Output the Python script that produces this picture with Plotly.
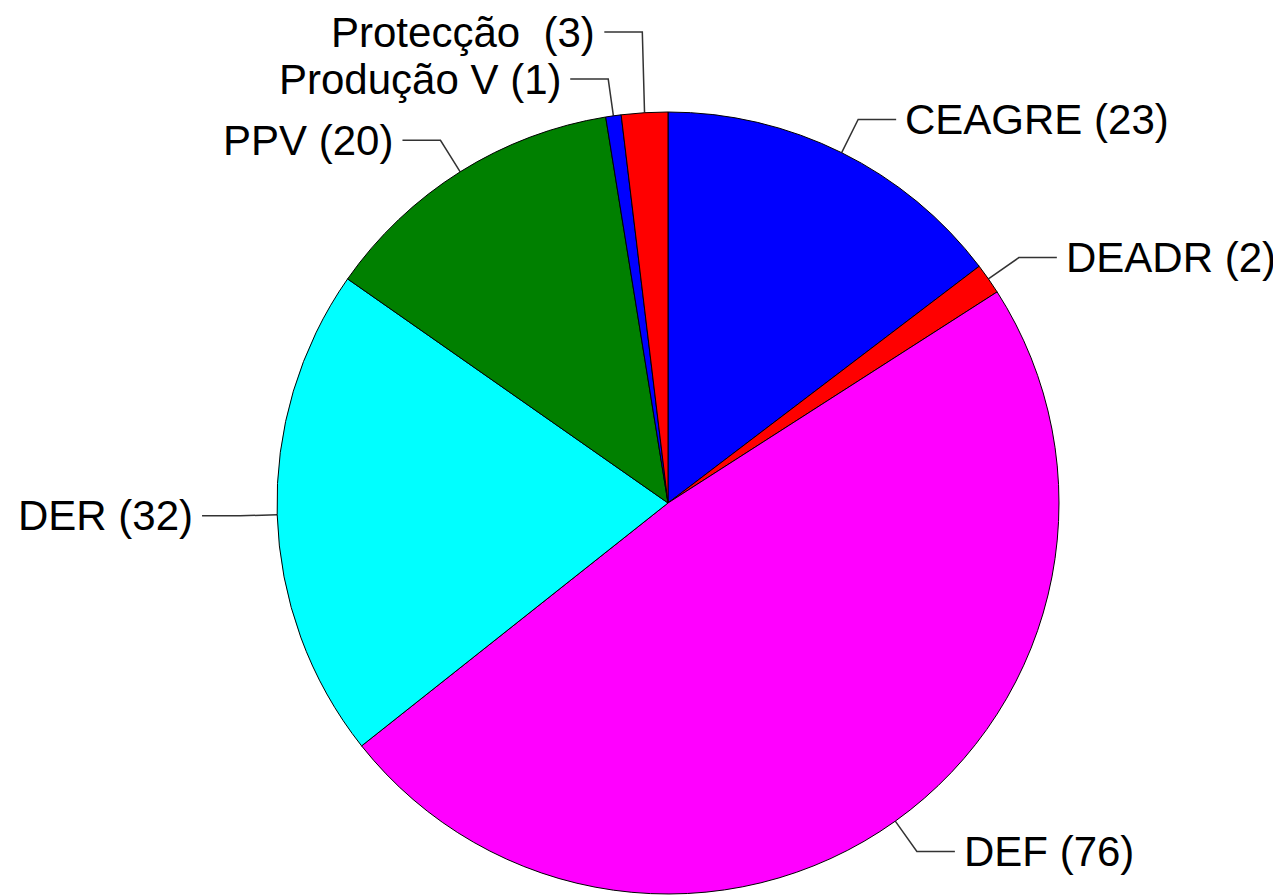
import math
import plotly.graph_objects as go

# ---- data ----
categories = ["CEAGRE", "DEADR", "DEF", "DER", "PPV", "Produção V", "Protecção "]
values = [23, 2, 76, 32, 20, 1, 3]
colors = ["#0000FF", "#FF0000", "#FF00FF", "#00FFFF", "#008000", "#0000FF", "#FF0000"]

# ---- geometry (pixels, compensating 8px page margin) ----
W, H = 1281, 895
OFF = 8
CX, CY, R = 668 - OFF, 503 - OFF, 391
ELBOW = 1.095          # leader elbow radius factor
SEG = 38               # horizontal leader length
GAP = 7                # gap between leader and text
LINE_H = 47            # min vertical spacing between labels
FONT = dict(family="Liberation Sans, Arial, sans-serif", size=42, color="black")

fig = go.Figure()

fig.add_trace(go.Pie(
    labels=categories, values=values, sort=False, direction="clockwise", rotation=0,
    marker=dict(colors=colors, line=dict(color="black", width=1)),
    textinfo="none", hoverinfo="label+value", showlegend=False,
    domain=dict(x=[(CX - R) / W, (CX + R) / W], y=[(H - CY - R) / H, (H - CY + R) / H]),
))

# ---- compute leader lines from data ----
total = sum(values)
cum = 0
items = []
for lab, v in zip(categories, values):
    mid = (cum + v / 2) / total * 2 * math.pi
    cum += v
    sx, sy = math.sin(mid), -math.cos(mid)
    ex, ey = CX + R * sx, CY + R * sy
    bx, by = CX + R * ELBOW * sx, CY + R * ELBOW * sy
    items.append(dict(label=f"{lab} ({v})", right=sx >= 0, ex=ex, ey=ey, bx=bx, by=by))

# avoid overlap: left side processed bottom to top, right side top to bottom
left = sorted([it for it in items if not it["right"]], key=lambda d: -d["by"])
for i in range(1, len(left)):
    if left[i - 1]["by"] - left[i]["by"] < LINE_H:
        left[i]["by"] = left[i - 1]["by"] - LINE_H
right = sorted([it for it in items if it["right"]], key=lambda d: d["by"])
for i in range(1, len(right)):
    if right[i]["by"] - right[i - 1]["by"] < LINE_H:
        right[i]["by"] = right[i - 1]["by"] + LINE_H

annotations = []
for it in items:
    d = 1 if it["right"] else -1
    hx = it["bx"] + d * SEG
    fig.add_trace(go.Scatter(
        x=[it["ex"], it["bx"], hx], y=[it["ey"], it["by"], it["by"]],
        mode="lines", line=dict(color="#333333", width=1.5),
        hoverinfo="skip", showlegend=False, xaxis="x", yaxis="y",
    ))
    annotations.append(dict(
        x=hx + d * GAP, y=it["by"], xref="x", yref="y", text=it["label"],
        showarrow=False, xanchor="left" if it["right"] else "right", yanchor="middle",
        font=FONT,
    ))

fig.update_layout(
    width=W, height=H, margin=dict(l=0, r=0, t=0, b=0),
    paper_bgcolor="white", plot_bgcolor="rgba(0,0,0,0)",
    xaxis=dict(range=[0, W], visible=False, fixedrange=True, domain=[0, 1]),
    yaxis=dict(range=[H, 0], visible=False, fixedrange=True, domain=[0, 1]),
    annotations=annotations, showlegend=False,
)

fig.write_html("out.html")
